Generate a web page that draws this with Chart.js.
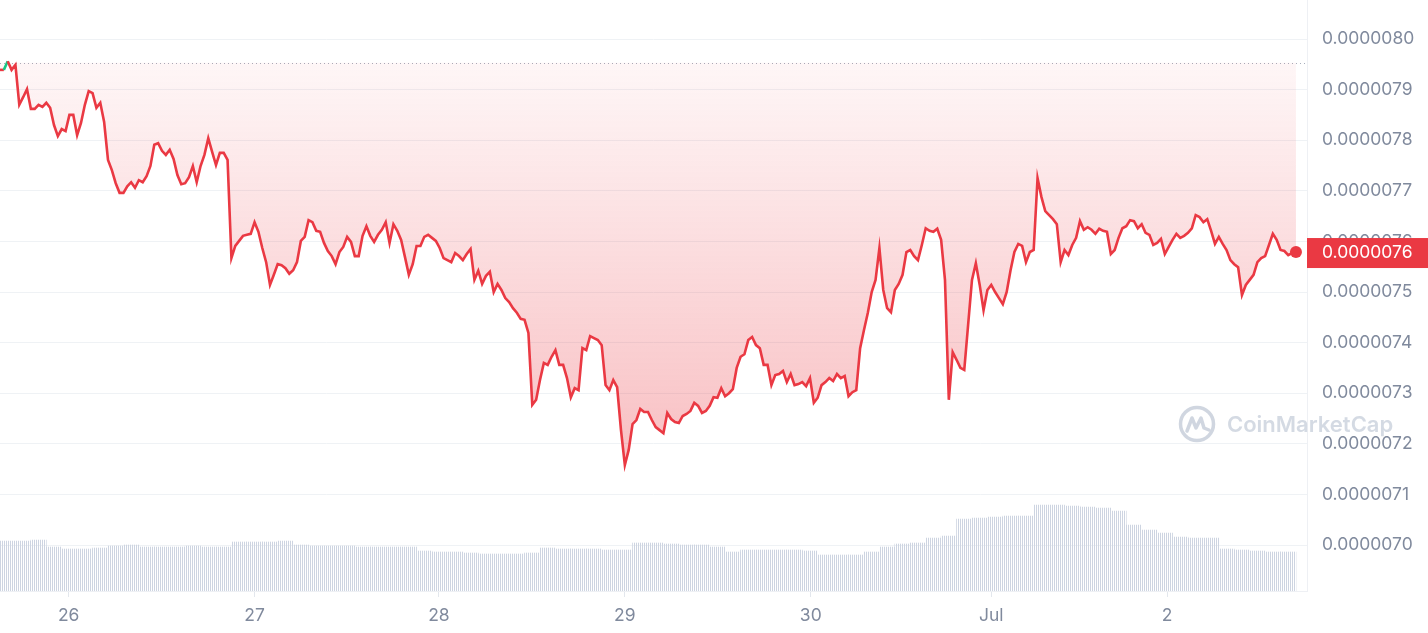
<!DOCTYPE html>
<html lang="en">
<head>
<meta charset="utf-8">
<title>Price chart</title>
<style>
    html, body { margin: 0; padding: 0; background: #fff; }
    #wrap { width: 1428px; height: 633px; position: relative; }
</style>
</head>
<body>
<div id="wrap">
    <canvas id="priceChart"></canvas>
</div>

<script src="https://cdn.jsdelivr.net/npm/chart.js"></script>
<script>
    // price, one point per half hour from Jun 25 ~15:00, in units of 1e-6 USD
    const prices = [
        7.939, 7.939, 7.956, 7.939, 7.949, 7.870, 7.885, 7.901, 7.862, 7.862, 7.870, 7.866, 7.874, 7.864, 7.830, 7.808, 7.822, 7.818, 7.850, 7.850,
        7.810, 7.834, 7.870, 7.897, 7.893, 7.864, 7.874, 7.836, 7.761, 7.741, 7.715, 7.696, 7.696, 7.709, 7.717, 7.706, 7.721, 7.717, 7.729, 7.749,
        7.791, 7.794, 7.779, 7.771, 7.781, 7.763, 7.731, 7.713, 7.715, 7.727, 7.749, 7.717, 7.749, 7.771, 7.804, 7.777, 7.751, 7.775, 7.775, 7.761,
        7.567, 7.591, 7.601, 7.611, 7.613, 7.615, 7.638, 7.619, 7.587, 7.559, 7.514, 7.534, 7.555, 7.553, 7.547, 7.536, 7.543, 7.559, 7.601, 7.609,
        7.642, 7.638, 7.621, 7.619, 7.597, 7.581, 7.571, 7.555, 7.579, 7.589, 7.609, 7.599, 7.571, 7.571, 7.611, 7.630, 7.611, 7.599, 7.613, 7.623,
        7.638, 7.597, 7.634, 7.621, 7.603, 7.569, 7.534, 7.555, 7.591, 7.591, 7.609, 7.613, 7.607, 7.601, 7.587, 7.567, 7.563, 7.559, 7.577, 7.571,
        7.563, 7.575, 7.585, 7.524, 7.542, 7.516, 7.532, 7.540, 7.500, 7.516, 7.504, 7.488, 7.480, 7.468, 7.459, 7.447, 7.445, 7.419, 7.277, 7.287,
        7.326, 7.360, 7.356, 7.372, 7.385, 7.356, 7.356, 7.330, 7.292, 7.310, 7.306, 7.389, 7.385, 7.413, 7.409, 7.405, 7.395, 7.316, 7.306, 7.326,
        7.312, 7.227, 7.158, 7.188, 7.239, 7.247, 7.269, 7.263, 7.263, 7.247, 7.233, 7.227, 7.221, 7.261, 7.249, 7.243, 7.241, 7.255, 7.259, 7.265,
        7.281, 7.275, 7.261, 7.265, 7.275, 7.292, 7.291, 7.310, 7.294, 7.300, 7.308, 7.350, 7.372, 7.377, 7.405, 7.411, 7.395, 7.389, 7.356, 7.356,
        7.316, 7.336, 7.338, 7.344, 7.322, 7.338, 7.316, 7.318, 7.322, 7.314, 7.330, 7.281, 7.291, 7.316, 7.322, 7.330, 7.324, 7.338, 7.330, 7.334,
        7.294, 7.302, 7.306, 7.389, 7.425, 7.459, 7.500, 7.524, 7.587, 7.504, 7.468, 7.460, 7.504, 7.516, 7.534, 7.579, 7.583, 7.571, 7.563, 7.593,
        7.626, 7.621, 7.619, 7.625, 7.603, 7.524, 7.287, 7.381, 7.366, 7.350, 7.346, 7.435, 7.524, 7.557, 7.514, 7.464, 7.504, 7.514, 7.500, 7.488,
        7.476, 7.500, 7.543, 7.579, 7.595, 7.591, 7.559, 7.579, 7.583, 7.725, 7.688, 7.660, 7.652, 7.644, 7.634, 7.559, 7.583, 7.573, 7.593, 7.607,
        7.640, 7.623, 7.628, 7.623, 7.615, 7.625, 7.621, 7.619, 7.575, 7.583, 7.607, 7.626, 7.630, 7.642, 7.640, 7.626, 7.634, 7.617, 7.613, 7.593,
        7.597, 7.605, 7.575, 7.589, 7.603, 7.615, 7.607, 7.611, 7.617, 7.626, 7.652, 7.648, 7.638, 7.644, 7.621, 7.595, 7.609, 7.595, 7.583, 7.563,
        7.555, 7.549, 7.494, 7.514, 7.524, 7.534, 7.559, 7.567, 7.571, 7.593, 7.615, 7.603, 7.583, 7.581, 7.573, 7.577, 7.579
    ];
    const openPrice = 7.953;

    // volume per 2 hours, millions USD
    const volumes = [
        100, 100, 102, 88, 84, 84, 86, 90, 92, 88,
        88, 88, 90, 88, 88, 98, 98, 98, 100, 92,
        90, 90, 90, 88, 88, 88, 88, 80, 78, 78,
        76, 74, 74, 74, 76, 86, 84, 84, 84, 82,
        82, 96, 96, 94, 92, 92, 88, 78, 82, 82,
        82, 82, 80, 72, 72, 72, 78, 88, 94, 96,
        106, 110, 144, 146, 148, 150, 150, 172, 172, 170,
        168, 166, 160, 132, 122, 116, 108, 106, 106, 84,
        82, 80, 78, 78
    ];

    const dayTicks = [8.9, 33.0, 56.9, 81.0, 105.1, 128.5, 151.3];
    const dayLabels = ['26', '27', '28', '29', '30', 'Jul', '2'];
    const priceTicks = [7.0, 7.1, 7.2, 7.3, 7.4, 7.5, 7.6, 7.7, 7.8, 7.9, 8.0];

    const red = '#ea3943';
    const green = '#16c784';
    const grey = '#808a9d';
    const font = 'Inter, "Noto Sans", sans-serif';

    const canvas = document.getElementById('priceChart');
    const ctx = canvas.getContext('2d');

    // thin vertical stripes for the volume bars
    const stripe = document.createElement('canvas');
    stripe.width = 2;
    stripe.height = 1;
    const sctx = stripe.getContext('2d');
    sctx.fillStyle = '#cdd4e1';
    sctx.fillRect(0, 0, 1, 1);
    const volPattern = ctx.createPattern(stripe, 'repeat');

    const lastIdx = prices.length - 1;

    const overlay = {
        id: 'overlay',
        beforeDatasetsDraw(chart) {
            const c = chart.ctx;
            const area = chart.chartArea;
            const y = chart.scales.y.getPixelForValue(openPrice);
            c.save();
            c.strokeStyle = '#a7aebb';
            c.lineWidth = 1;
            c.setLineDash([1, 3]);
            c.beginPath();
            c.moveTo(area.left, Math.round(y) + 0.5);
            c.lineTo(area.right, Math.round(y) + 0.5);
            c.stroke();
            c.restore();
        },
        afterDraw(chart) {
            const c = chart.ctx;
            const area = chart.chartArea;

            // watermark
            c.save();
            const cx = 1197, cy = 424;
            c.strokeStyle = 'rgba(200,207,219,0.85)';
            c.lineWidth = 3.5;
            c.lineJoin = 'round';
            c.lineCap = 'round';
            c.beginPath();
            c.arc(cx, cy, 16.5, 0, Math.PI * 2);
            c.stroke();
            c.beginPath();
            c.moveTo(cx - 10, cy + 7);
            c.lineTo(cx - 5, cy - 6);
            c.lineTo(cx - 1, cy + 4);
            c.lineTo(cx + 4, cy - 6);
            c.lineTo(cx + 7, cy + 4);
            c.lineTo(cx + 12, cy + 6);
            c.stroke();
            c.fillStyle = 'rgba(205,211,222,0.85)';
            c.font = '600 22px ' + font;
            c.textBaseline = 'middle';
            c.fillText('CoinMarketCap', 1227, cy + 1);
            c.restore();

            // last price tag
            const yv = chart.scales.y.getPixelForValue(prices[lastIdx]);
            c.save();
            c.fillStyle = red;
            c.fillRect(area.right, yv - 14, chart.width - area.right, 30);
            c.fillStyle = '#fff';
            c.font = '17.5px ' + font;
            c.textBaseline = 'middle';
            c.fillText((prices[lastIdx] / 1e6).toFixed(7), area.right + 15, yv + 1);
            c.restore();
        }
    };

    new Chart(canvas, {
        data: {
            datasets: [{
                type: 'line',
                label: 'Price',
                data: prices.map((p, j) => ({x: j / 2, y: p})),
                yAxisID: 'y',
                order: 1,
                borderWidth: 2.6,
                borderColor: red,
                segment: {
                    borderColor: c => c.p1.parsed.y > openPrice ? green : red
                },
                pointRadius: c => c.dataIndex === lastIdx ? 6 : 0,
                pointBackgroundColor: red,
                pointBorderWidth: 0,
                tension: 0,
                fill: {value: openPrice},
                backgroundColor: c => {
                    const area = c.chart.chartArea;
                    if (!area) return 'rgba(234,57,67,0.1)';
                    const g = c.chart.ctx.createLinearGradient(0, area.top, 0, 490);
                    g.addColorStop(0, 'rgba(234,57,67,0.0)');
                    g.addColorStop(1, 'rgba(234,57,67,0.34)');
                    return g;
                }
            }, {
                type: 'bar',
                label: 'Volume',
                data: volumes.map((v, k) => ({x: 2 * k + 1, y: v})),
                yAxisID: 'yv',
                order: 2,
                backgroundColor: volPattern,
                borderWidth: 0,
                barPercentage: 1,
                categoryPercentage: 1
            }]
        },
        options: {
            responsive: true,
            maintainAspectRatio: false,
            animation: false,
            layout: {padding: 0, autoPadding: false},
            plugins: {
                legend: {display: false},
                tooltip: {enabled: false}
            },
            scales: {
                x: {
                    type: 'linear',
                    offset: false,
                    min: 0,
                    max: 169.43,
                    afterBuildTicks: s => { s.ticks = dayTicks.map(v => ({value: v})); },
                    afterFit: s => { s.height = 42; s.paddingLeft = 0; s.paddingRight = 0; },
                    grid: {offset: false, drawOnChartArea: false, drawTicks: true, tickLength: 6, color: '#e3e7ed'},
                    border: {display: true, color: '#eef0f4'},
                    ticks: {
                        autoSkip: false,
                        maxRotation: 0,
                        padding: 8,
                        color: grey,
                        font: {family: font, size: 17.5},
                        callback: (v, i) => dayLabels[i]
                    }
                },
                y: {
                    type: 'linear',
                    position: 'right',
                    min: 6.9091,
                    max: 8.0771,
                    afterBuildTicks: s => { s.ticks = priceTicks.map(v => ({value: v})); },
                    afterFit: s => { s.width = 121; s.paddingTop = 0; s.paddingBottom = 0; },
                    grid: {color: '#eff2f5', drawTicks: false},
                    border: {display: true, color: '#eef0f4'},
                    ticks: {
                        padding: 15,
                        color: grey,
                        font: {family: font, size: 17.5},
                        callback: v => (v / 1e6).toFixed(7)
                    }
                },
                yv: {
                    type: 'linear',
                    display: false,
                    min: 0,
                    max: 1182
                }
            }
        },
        plugins: [overlay]
    });
</script>
</body>
</html>
